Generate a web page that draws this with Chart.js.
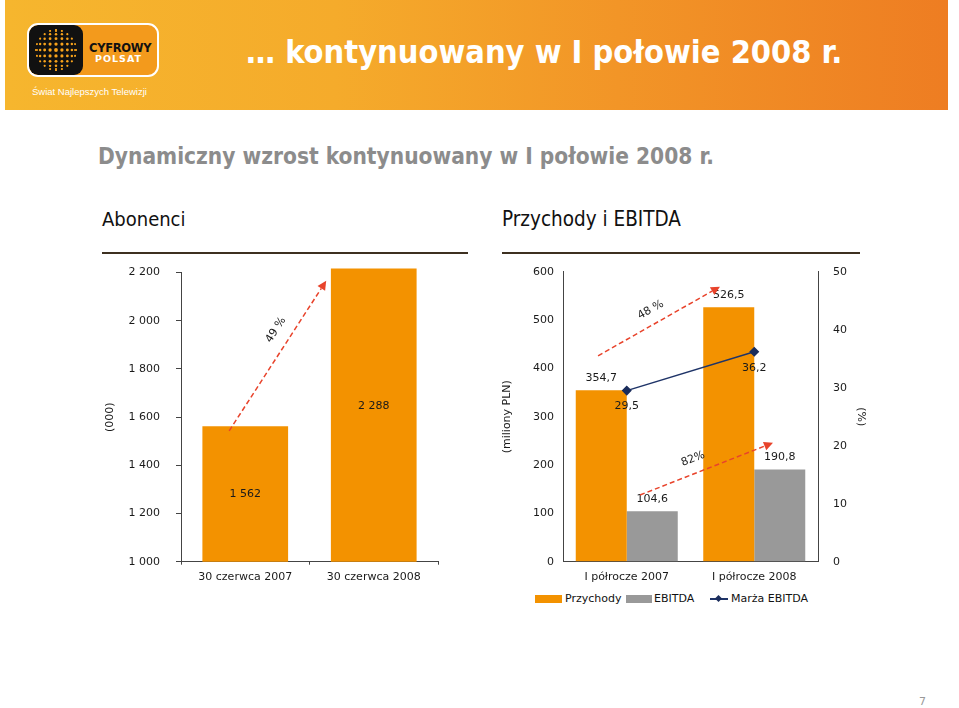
<!DOCTYPE html>
<html lang="pl">
<head>
<meta charset="utf-8">
<title>Cyfrowy Polsat – I półrocze 2008</title>
<script src="https://cdn.jsdelivr.net/npm/chart.js@4.4.1/dist/chart.umd.min.js"></script>
<style>
  body { margin: 0; width: 959px; height: 708px; position: relative; overflow: hidden; background: #fff; font-family: "DejaVu Sans", sans-serif; }
  .banner { position: absolute; left: 5px; top: 0; width: 943px; height: 110px;
    background: linear-gradient(90deg, #f6b62e 0%, #f5ab2b 35%, #f29527 65%, #ee7d22 100%); }
  .logo { position: absolute; left: 27px; top: 23px; width: 128px; height: 50px; border: 2px solid #fff; border-radius: 11px; background: #f39a1c; overflow: hidden; }
  .logo .kwadrat { position: absolute; left: 0; top: 0; width: 54px; height: 50px; background: #111; border-radius: 9px; }
  .logo canvas { position: absolute; left: 4px; top: 2px; }
  .logo .cyfrowy { position: absolute; left: 60px; top: 16px; font: bold 11.5px "DejaVu Sans", sans-serif; color: #111; letter-spacing: -0.3px; }
  .logo .polsat { position: absolute; left: 66px; top: 28px; font: bold 9.5px "DejaVu Sans", sans-serif; color: #fff; letter-spacing: 1px; }
  .haslo { position: absolute; left: 32px; top: 86px; font: 9.5px "Liberation Sans", sans-serif; color: #fff; }
  .tytul { position: absolute; left: 246px; top: 33px; font: bold 32.3px "DejaVu Sans Condensed", "DejaVu Sans", sans-serif; color: #fff; white-space: nowrap; }
  .podtytul { position: absolute; left: 98px; top: 143px; font: bold 22.5px "DejaVu Sans Condensed", "DejaVu Sans", sans-serif; color: #8c8c8c; white-space: nowrap; }
  .naglowek { position: absolute; top: 207px; font: 20px "DejaVu Sans Condensed", "DejaVu Sans", sans-serif; color: #111; white-space: nowrap; }
  .kreska { position: absolute; top: 252px; height: 2px; background: #3d3020; }
  canvas.wykres { position: absolute; }
  .legenda { position: absolute; top: 592px; left: 535px; height: 14px; font: 11px "DejaVu Sans", sans-serif; color: #111; }
  .legenda span { position: absolute; top: 0; white-space: nowrap; line-height: 14px; }
  .legenda i { position: absolute; display: block; }
  .strona { position: absolute; left: 919px; top: 695px; font: 11px "DejaVu Sans", sans-serif; color: #999; }
</style>
</head>
<body>

<div class="banner"></div>
<div class="logo">
  <div class="kwadrat"></div>
  <canvas id="glob" width="46" height="46"></canvas>
  <div class="cyfrowy">CYFROWY</div>
  <div class="polsat">POLSAT</div>
</div>
<div class="haslo">Świat Najlepszych Telewizji</div>
<div class="tytul">… kontynuowany w I połowie 2008 r.</div>

<div class="podtytul">Dynamiczny wzrost kontynuowany w I połowie 2008 r.</div>
<div class="naglowek" style="left:102px">Abonenci</div>
<div class="kreska" style="left:102px;width:366px"></div>
<div class="naglowek" style="left:502px;font-size:20.5px">Przychody i EBITDA</div>
<div class="kreska" style="left:502px;width:358px"></div>

<canvas class="wykres" id="wykresAbonenci" width="370" height="345" style="left:90px;top:250px"></canvas>
<canvas class="wykres" id="wykresPrzychody" width="400" height="340" style="left:480px;top:250px"></canvas>

<div class="legenda">
  <i style="left:0;top:3px;width:27px;height:8px;background:#f39200"></i>
  <span style="left:30px">Przychody</span>
  <i style="left:91px;top:3px;width:26px;height:8px;background:#999999"></i>
  <span style="left:119px">EBITDA</span>
  <i style="left:175px;top:6px;width:18px;height:1.5px;background:#1f3468"></i>
  <i style="left:181px;top:4px;width:5px;height:5px;background:#1b2d5c;transform:rotate(45deg)"></i>
  <span style="left:196px">Marża EBITDA</span>
</div>

<div class="strona">7</div>

<script>
// ===============================
// DANE
// ===============================
const kategorieAbonenci = ["30 czerwca 2007", "30 czerwca 2008"];
const abonenci = [1562, 2288];

const kategoriePrzychody = ["I półrocze 2007", "I półrocze 2008"];
const przychody = [354.7, 526.5];
const ebitda = [104.6, 190.8];
const marzaEbitda = [29.5, 36.2];

const wzrostAbonenci = ["49 %"];
const wzrostPrzychody = ["48 %", "82%"];

// ===============================
// STYLE
// ===============================
const POMARANCZ = "#f39200";
const SZARY = "#999999";
const GRANAT = "#1f3468";
const CZERWONY = "#e8432b";
const OS = "#444444";
const TEKST = "#1a1a1a";
const czcionka = { family: "DejaVu Sans", size: 11 };

Chart.defaults.font.family = "DejaVu Sans";
Chart.defaults.font.size = 11;
Chart.defaults.color = TEKST;

// format: spacja jako separator tysięcy, przecinek dziesiętny
const tysiace = v => String(v).replace(/\B(?=(\d{3})+(?!\d))/g, " ");
const przecinek = v => v.toFixed(1).replace(".", ",");

// ===============================
// GLOBUS W LOGO
// ===============================
(function () {
  const c = document.getElementById("glob").getContext("2d");
  const r = 21, cx = 23, cy = 23;
  c.save();
  c.beginPath(); c.arc(cx, cy, r, 0, Math.PI * 2); c.clip();
  for (let i = -5; i <= 5; i++) {
    for (let j = -5; j <= 5; j++) {
      const x = cx + Math.sin(i / 5.5 * Math.PI / 2) * r;
      const y = cy + Math.sin(j / 5.5 * Math.PI / 2) * r;
      const d = Math.hypot(x - cx, y - cy) / r;
      if (d > 1) continue;
      c.fillStyle = "#f7a21b";
      c.beginPath(); c.arc(x, y, 1.9 * (1 - d * 0.45), 0, Math.PI * 2); c.fill();
    }
  }
  c.restore();
})();

// ===============================
// PLUGINY
// ===============================
// przerywane strzałki wzrostu, punkty podane w wartościach osi
function pluginStrzalki(osY, lista) {
  return {
    id: "strzalki",
    afterDatasetsDraw(chart) {
      const { ctx, scales } = chart;
      const sx = scales.x, sy = scales[osY];
      lista.forEach(s => {
        const x1 = sx.getPixelForValue(s.od[0]), y1 = sy.getPixelForValue(s.od[1]);
        const x2 = sx.getPixelForValue(s.do[0]), y2 = sy.getPixelForValue(s.do[1]);
        const kat = Math.atan2(y2 - y1, x2 - x1);
        const dl = 9;
        ctx.save();
        ctx.strokeStyle = CZERWONY;
        ctx.fillStyle = CZERWONY;
        ctx.lineWidth = 1.5;
        ctx.setLineDash([5, 3]);
        ctx.beginPath();
        ctx.moveTo(x1, y1);
        ctx.lineTo(x2 - Math.cos(kat) * dl, y2 - Math.sin(kat) * dl);
        ctx.stroke();
        ctx.setLineDash([]);
        ctx.beginPath();
        ctx.moveTo(x2, y2);
        ctx.lineTo(x2 - Math.cos(kat) * dl + Math.sin(kat) * 4.5, y2 - Math.sin(kat) * dl - Math.cos(kat) * 4.5);
        ctx.lineTo(x2 - Math.cos(kat) * dl - Math.sin(kat) * 4.5, y2 - Math.sin(kat) * dl + Math.cos(kat) * 4.5);
        ctx.closePath();
        ctx.fill();
        // opis
        const tx = sx.getPixelForValue(s.opis[0]), ty = sy.getPixelForValue(s.opis[1]);
        ctx.translate(tx, ty);
        ctx.rotate(kat);
        ctx.fillStyle = TEKST;
        ctx.font = "11px 'DejaVu Sans'";
        ctx.textAlign = "center";
        ctx.textBaseline = "middle";
        ctx.fillText(s.tekst, 0, 0);
        ctx.restore();
      });
    }
  };
}

// etykiety wartości
function pluginEtykiety(sposob) {
  return {
    id: "etykiety",
    afterDatasetsDraw(chart) {
      const { ctx } = chart;
      ctx.save();
      ctx.font = "11px 'DejaVu Sans'";
      ctx.fillStyle = TEKST;
      ctx.textAlign = "center";
      ctx.textBaseline = "middle";
      chart.data.datasets.forEach((ds, i) => {
        chart.getDatasetMeta(i).data.forEach((el, j) => {
          const p = sposob(chart, ds, el, j);
          ctx.fillText(p.tekst, p.x, p.y);
        });
      });
      ctx.restore();
    }
  };
}

// ===============================
// WYKRES: ABONENCI
// ===============================
new Chart(document.getElementById("wykresAbonenci"), {
  type: "bar",
  data: {
    labels: kategorieAbonenci,
    datasets: [{
      label: "Abonenci",
      data: abonenci,
      backgroundColor: POMARANCZ,
      barPercentage: 0.667,
      categoryPercentage: 1,
      clip: { left: 0, top: 4, right: 0, bottom: 0 }
    }]
  },
  options: {
    responsive: false,
    animation: false,
    devicePixelRatio: 1,
    layout: { padding: { top: 20.7, right: 22, bottom: 0, left: 0 } },
    plugins: { legend: { display: false }, tooltip: { enabled: false } },
    scales: {
      x: {
        grid: { drawOnChartArea: false, tickLength: 3, color: OS },
        border: { color: OS },
        ticks: { font: czcionka, color: TEKST, padding: 6 },
        afterFit(s) { s.height = 33.3; }
      },
      y: {
        min: 1000,
        max: 2200,
        ticks: { stepSize: 200, font: czcionka, color: TEKST, padding: 16, callback: v => tysiace(v) },
        grid: { drawOnChartArea: false, tickLength: 5, color: OS },
        border: { color: OS },
        title: { display: true, text: "(000)", font: czcionka, color: TEKST, padding: { top: 14, bottom: 0 } },
        afterFit(s) { s.width = 91; }
      }
    }
  },
  plugins: [
    // etykieta w połowie widocznej części słupka
    pluginEtykiety((chart, ds, el, j) => {
      const dol = chart.scales.y.getPixelForValue(chart.scales.y.min);
      return { tekst: tysiace(ds.data[j]), x: el.x, y: (el.y + dol) / 2 };
    }),
    pluginStrzalki("y", [
      { od: [-0.125, 1543], do: [0.63, 2166], opis: [0.239, 1962], tekst: wzrostAbonenci[0] }
    ])
  ]
});

// ===============================
// WYKRES: PRZYCHODY I EBITDA
// ===============================
new Chart(document.getElementById("wykresPrzychody"), {
  type: "bar",
  data: {
    labels: kategoriePrzychody,
    datasets: [
      { label: "Przychody", data: przychody, backgroundColor: POMARANCZ, barPercentage: 1, categoryPercentage: 0.8, order: 1 },
      { label: "EBITDA", data: ebitda, backgroundColor: SZARY, barPercentage: 1, categoryPercentage: 0.8, order: 1 },
      {
        type: "line", label: "Marża EBITDA", data: marzaEbitda, yAxisID: "y1", order: 0,
        borderColor: GRANAT, borderWidth: 1.5, pointStyle: "rectRot", pointRadius: 4,
        pointBackgroundColor: "#1b2d5c", pointBorderColor: "#1b2d5c"
      }
    ]
  },
  options: {
    responsive: false,
    animation: false,
    devicePixelRatio: 1,
    layout: { padding: { top: 21.7, right: 0, bottom: 0, left: 0 } },
    plugins: { legend: { display: false }, tooltip: { enabled: false } },
    scales: {
      x: {
        grid: { drawOnChartArea: false, drawTicks: false, color: OS },
        border: { color: OS },
        ticks: { font: czcionka, color: TEKST, padding: 9 },
        afterFit(s) { s.height = 28.3; }
      },
      y: {
        min: 0,
        max: 600,
        ticks: { stepSize: 100, font: czcionka, color: TEKST, padding: 9 },
        grid: { drawOnChartArea: false, drawTicks: false },
        border: { color: OS },
        title: { display: true, text: "(miliony PLN)", font: czcionka, color: TEKST, padding: { top: 21, bottom: 0 } },
        afterFit(s) { s.width = 83; }
      },
      y1: {
        position: "right",
        min: 0,
        max: 50,
        ticks: { stepSize: 10, font: czcionka, color: TEKST, padding: 15 },
        grid: { drawOnChartArea: false, drawTicks: false },
        border: { color: OS },
        title: { display: true, text: "(%)", font: czcionka, color: TEKST, padding: { top: 13, bottom: 0 } },
        afterFit(s) { s.width = 62; }
      }
    }
  },
  plugins: [
    pluginEtykiety((chart, ds, el, j) => ds.type === "line"
      ? { tekst: przecinek(ds.data[j]), x: el.x, y: el.y + 16 }
      : { tekst: przecinek(ds.data[j]), x: el.x, y: el.y - 12.5 }),
    pluginStrzalki("y", [
      { od: [-0.225, 426], do: [0.731, 569], opis: [0.188, 521], tekst: wzrostPrzychody[0] },
      { od: [0.104, 138], do: [1.147, 246], opis: [0.52, 212.6], tekst: wzrostPrzychody[1] }
    ])
  ]
});
</script>
</body>
</html>
